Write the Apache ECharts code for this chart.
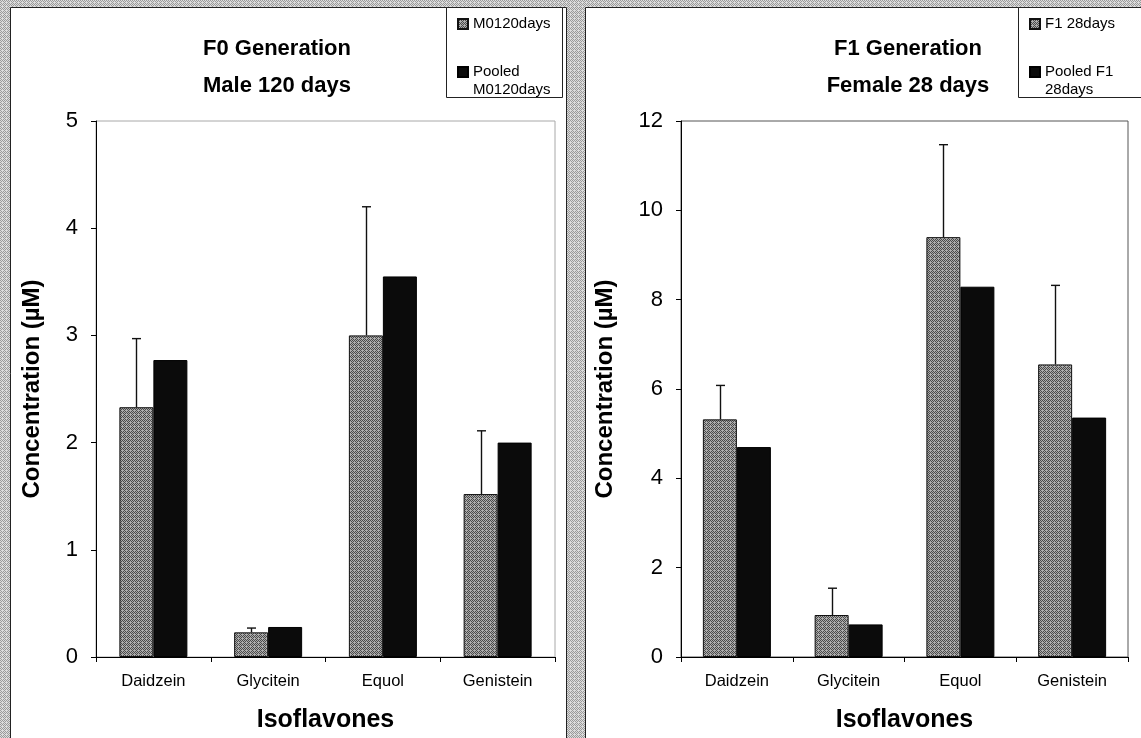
<!DOCTYPE html>
<html>
<head>
<meta charset="utf-8">
<script src="https://cdn.jsdelivr.net/npm/echarts@6/dist/echarts.min.js"></script>
<style>
  html, body { margin: 0; padding: 0; background: #fff; }
  #chart { width: 1141px; height: 738px; }
</style>
</head>
<body>
<div id="chart"></div>
<script>
// Isoflavone concentrations (µM), individual mean ± SD and pooled samples
const categories = ['Daidzein', 'Glycitein', 'Equol', 'Genistein'];

const f0Individual   = [2.33, 0.23, 3.00, 1.52];
const f0IndividualSD = [0.64, 0.04, 1.20, 0.59];
const f0Pooled       = [2.77, 0.28, 3.55, 2.00];

const f1Individual   = [5.32, 0.94, 9.40, 6.55];
const f1IndividualSD = [0.76, 0.60, 2.07, 1.77];
const f1Pooled       = [4.70, 0.73, 8.29, 5.36];

const f0Axis = { max: 5, step: 1 };
const f1Axis = { max: 12, step: 2 };

const f0Names = ['M0120days', 'Pooled M0120days'];
const f1Names = ['F1 28days', 'Pooled F1 28days'];
// a leading blank line keeps the swatch level with the first text line
const legendText = {
  'M0120days': 'M0120days',
  'Pooled M0120days': ' \nPooled\nM0120days',
  'F1 28days': 'F1 28days',
  'Pooled F1 28days': ' \nPooled F1\n28days'
};

const FONT = '"Liberation Sans", Arial, sans-serif';
const BAR_W = 34;

// stippled fills
function stipple(dark, light) {
  const c = document.createElement('canvas');
  c.width = 4; c.height = 4;
  const g = c.getContext('2d');
  g.fillStyle = light; g.fillRect(0, 0, 4, 4);
  g.fillStyle = dark;
  [[0,0],[2,0],[1,1],[3,1],[0,2],[2,2],[3,3],[1,3]].forEach(function (p, i) {
    if (i !== 5) g.fillRect(p[0], p[1], 1, 1);
  });
  return c;
}
const barPattern = { image: stipple('#4a4a4a', '#acacac'), repeat: 'repeat' };
const framePattern = { image: stipple('#9a9a9a', '#dcdcdc'), repeat: 'repeat' };

function errorSeries(means, sds, axisIdx) {
  return {
    type: 'custom',
    xAxisIndex: axisIdx,
    yAxisIndex: axisIdx,
    z: 5,
    silent: true,
    data: means.map(function (m, i) { return [i, m, m + sds[i]]; }),
    renderItem: function (params, api) {
      const base = api.coord([api.value(0), api.value(1)]);
      const top = api.coord([api.value(0), api.value(2)]);
      const x = Math.round(base[0] - BAR_W / 2) + 0.5;
      const style = { stroke: '#111', lineWidth: 1.4, fill: null };
      return {
        type: 'group',
        children: [
          { type: 'line', shape: { x1: x, y1: base[1], x2: x, y2: top[1] }, style: style },
          { type: 'line', shape: { x1: x - 4.5, y1: top[1], x2: x + 4.5, y2: top[1] }, style: style }
        ]
      };
    }
  };
}

function barSeries(name, data, axisIdx, isPooled) {
  return {
    name: name,
    type: 'bar',
    xAxisIndex: axisIdx,
    yAxisIndex: axisIdx,
    data: data,
    barWidth: BAR_W,
    barGap: '0%',
    itemStyle: isPooled
      ? { color: '#0b0b0b', borderColor: '#000', borderWidth: 1 }
      : { color: barPattern, borderColor: '#111', borderWidth: 1 }
  };
}

function xAxis(gridIdx) {
  return {
    type: 'category',
    gridIndex: gridIdx,
    data: categories,
    name: 'Isoflavones',
    nameLocation: 'middle',
    nameGap: 51,
    nameTextStyle: { fontFamily: FONT, fontWeight: 'bold', fontSize: 25, color: '#000' },
    axisLine: { lineStyle: { color: '#000', width: 1 } },
    axisTick: { show: true, length: 5, lineStyle: { color: '#000' } },
    axisLabel: { fontFamily: FONT, fontSize: 16.5, color: '#000', margin: 16 }
  };
}

function yAxis(gridIdx, ax, gap) {
  return {
    type: 'value',
    gridIndex: gridIdx,
    min: 0,
    max: ax.max,
    interval: ax.step,
    name: 'Concentration (\u00b5M)',
    nameLocation: 'middle',
    nameGap: gap,
    nameTextStyle: { fontFamily: FONT, fontWeight: 'bold', fontSize: 24, color: '#000' },
    axisLine: { show: true, lineStyle: { color: '#000', width: 1 } },
    axisTick: { show: true, length: 5, lineStyle: { color: '#000' } },
    axisLabel: { fontFamily: FONT, fontSize: 22, color: '#000', margin: 18 },
    splitLine: { show: false }
  };
}

function legend(names, left) {
  return {
    orient: 'vertical',
    left: left,
    top: 15,
    padding: 0,
    itemGap: 12,
    itemWidth: 10,
    itemHeight: 10,
    icon: 'rect',
    selectedMode: false,
    data: names,
    formatter: function (n) { return legendText[n]; },
    textStyle: { fontFamily: FONT, fontSize: 15, color: '#000', lineHeight: 18 }
  };
}

const chart = echarts.init(document.getElementById('chart'));

chart.setOption({
  animation: false,
  backgroundColor: '#fff',
  graphic: [
    { type: 'rect', z: -20, shape: { x: 0, y: 0, width: 1141, height: 738 }, style: { fill: framePattern } },
    { type: 'rect', z: -19, shape: { x: 10.5, y: 7.5, width: 556, height: 740 }, style: { fill: '#fff', stroke: '#222', lineWidth: 1 } },
    { type: 'rect', z: -19, shape: { x: 585.5, y: 7.5, width: 560, height: 740 }, style: { fill: '#fff', stroke: '#222', lineWidth: 1 } },
    { type: 'rect', z: -18, shape: { x: 446.5, y: 7.5, width: 116, height: 90 }, style: { fill: '#fff', stroke: '#222', lineWidth: 1 } },
    { type: 'rect', z: -18, shape: { x: 1018.5, y: 7.5, width: 130, height: 90 }, style: { fill: '#fff', stroke: '#222', lineWidth: 1 } }
  ],
  title: [
    {
      text: 'F0 Generation\nMale 120 days',
      left: 272, top: 25, textAlign: 'center',
      textStyle: { fontFamily: FONT, fontWeight: 'bold', fontSize: 22, lineHeight: 37, color: '#000' }
    },
    {
      text: 'F1 Generation\nFemale 28 days',
      left: 903, top: 25, textAlign: 'center',
      textStyle: { fontFamily: FONT, fontWeight: 'bold', fontSize: 22, lineHeight: 37, color: '#000' }
    }
  ],
  legend: [legend(f0Names, 457), legend(f1Names, 1029)],
  grid: [
    { left: 96, top: 121, width: 459, height: 537, show: true, borderColor: '#a8a8a8', borderWidth: 1, backgroundColor: 'transparent' },
    { left: 681, top: 121, width: 447, height: 537, show: true, borderColor: '#555', borderWidth: 1, backgroundColor: 'transparent' }
  ],
  xAxis: [xAxis(0), xAxis(1)],
  yAxis: [yAxis(0, f0Axis, 52), yAxis(1, f1Axis, 64)],
  series: [
    barSeries(f0Names[0], f0Individual, 0, false),
    barSeries(f0Names[1], f0Pooled, 0, true),
    errorSeries(f0Individual, f0IndividualSD, 0),
    barSeries(f1Names[0], f1Individual, 1, false),
    barSeries(f1Names[1], f1Pooled, 1, true),
    errorSeries(f1Individual, f1IndividualSD, 1)
  ]
});
</script>
</body>
</html>
